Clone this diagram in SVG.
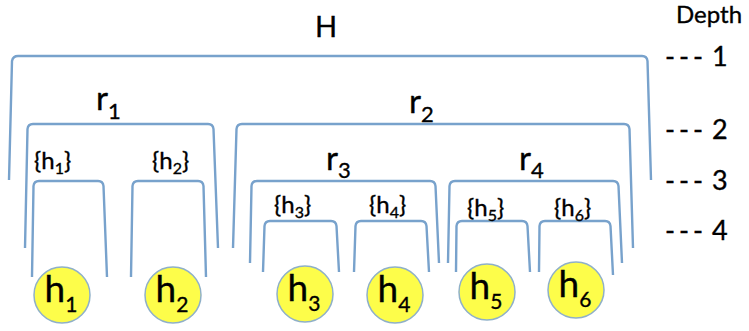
<svg xmlns="http://www.w3.org/2000/svg" width="749" height="331" viewBox="0 0 749 331">
<style>
  .br{fill:none;stroke:#78a2cc;stroke-width:2.4;stroke-linecap:butt;stroke-linejoin:round}
  text{font-family:Lato,"Open Sans","Liberation Sans",sans-serif;fill:#000;stroke:#000;stroke-width:0.35}
  .big{font-size:29px}
  .r{font-size:33px}
  .rs{font-size:22px}
  .set{font-size:24px}
  .ss{font-size:16px}
  .leaf{fill:#fdfd4a;stroke:#8fb0c8;stroke-width:1.5}
  .lh{font-size:37px}
  .ls{font-size:21px}
  .dep{font-size:24px}
  .dn{font-size:27px}
</style>
<rect width="749" height="331" fill="#fff"/>
<g id="connectors">
  <path class="br" d="M9,180 L12,61 Q13,56 18,56 L642,56 Q647,56 647.5,61 L651,180"/>
  <path class="br" d="M25,248 L27.5,129 Q28,124 33,124 L208,124 Q213,124 213.5,129 L218,248"/>
  <path class="br" d="M233,248 L236.5,129 Q237,124 242,124 L624,124 Q629,124 629.5,129 L633,248"/>
  <path class="br" d="M250,263 L251.5,186 Q252,181 257,181 L430,181 Q435,181 435.5,186 L439,263"/>
  <path class="br" d="M448,263 L449.5,186 Q450,181 455,181 L613,181 Q618,181 618.5,186 L622,263"/>
  <path class="br" d="M32,277 L33.5,186 Q34,181 39,181 L98,181 Q103,181 103.5,186 L107,277"/>
  <path class="br" d="M131,277 L132.5,186 Q133,181 138,181 L198,181 Q203,181 203.5,186 L206,277"/>
  <path class="br" d="M263,272 L264.5,226 Q265,221 270,221 L331,221 Q336,221 336.5,226 L339,272"/>
  <path class="br" d="M354,272 L355.5,226 Q356,221 361,221 L421,221 Q426,221 426.5,226 L429,272"/>
  <path class="br" d="M456,272 L456.5,226 Q457,221 462,221 L522,221 Q527,221 527.5,226 L530,272"/>
  <path class="br" d="M539,272 L539.5,226 Q540,221 545,221 L605,221 Q610,221 610.5,226 L613,275"/>
</g>
<g id="node-H"><text class="big" x="326" y="37" text-anchor="middle">H</text></g>
<g id="node-r1"><text x="96" y="110"><tspan class="r">r</tspan><tspan class="rs" dy="9">1</tspan></text></g>
<g id="node-r2"><text x="409" y="113"><tspan class="r">r</tspan><tspan class="rs" dy="9">2</tspan></text></g>
<g id="node-r3"><text x="326" y="170"><tspan class="r">r</tspan><tspan class="rs" dy="8">3</tspan></text></g>
<g id="node-r4"><text x="519" y="170"><tspan class="r">r</tspan><tspan class="rs" dy="8">4</tspan></text></g>
<g id="node-s1"><text class="set" x="34" y="169">{h<tspan class="ss" dy="5">1</tspan><tspan dy="-5">}</tspan></text></g>
<g id="node-s2"><text class="set" x="152" y="169">{h<tspan class="ss" dy="5">2</tspan><tspan dy="-5">}</tspan></text></g>
<g id="node-s3"><text class="set" x="274" y="213">{h<tspan class="ss" dy="5">3</tspan><tspan dy="-5">}</tspan></text></g>
<g id="node-s4"><text class="set" x="369" y="213">{h<tspan class="ss" dy="5">4</tspan><tspan dy="-5">}</tspan></text></g>
<g id="node-s5"><text class="set" x="467" y="216">{h<tspan class="ss" dy="5">5</tspan><tspan dy="-5">}</tspan></text></g>
<g id="node-s6"><text class="set" x="554" y="216">{h<tspan class="ss" dy="5">6</tspan><tspan dy="-5">}</tspan></text></g>
<g id="leaf-h1"><circle class="leaf" cx="62" cy="295" r="28"/><text x="61" y="302" text-anchor="middle"><tspan class="lh">h</tspan><tspan class="ls" dy="10">1</tspan></text></g>
<g id="leaf-h2"><circle class="leaf" cx="173" cy="295" r="28"/><text x="172" y="302" text-anchor="middle"><tspan class="lh">h</tspan><tspan class="ls" dy="10">2</tspan></text></g>
<g id="leaf-h3"><circle class="leaf" cx="305" cy="294" r="28"/><text x="304" y="301" text-anchor="middle"><tspan class="lh">h</tspan><tspan class="ls" dy="10">3</tspan></text></g>
<g id="leaf-h4"><circle class="leaf" cx="395" cy="295" r="28"/><text x="394" y="302" text-anchor="middle"><tspan class="lh">h</tspan><tspan class="ls" dy="10">4</tspan></text></g>
<g id="leaf-h5"><circle class="leaf" cx="487" cy="292" r="28"/><text x="486" y="299" text-anchor="middle"><tspan class="lh">h</tspan><tspan class="ls" dy="10">5</tspan></text></g>
<g id="leaf-h6"><circle class="leaf" cx="576" cy="290" r="28"/><text x="575" y="297" text-anchor="middle"><tspan class="lh">h</tspan><tspan class="ls" dy="10">6</tspan></text></g>
<g id="depth">
  <text class="dep" x="676" y="23">Depth</text>
  <text class="dn" x="665" y="66"><tspan letter-spacing="4">---</tspan><tspan x="712">1</tspan></text>
  <text class="dn" x="665" y="139"><tspan letter-spacing="4">---</tspan><tspan x="712">2</tspan></text>
  <text class="dn" x="665" y="190"><tspan letter-spacing="4">---</tspan><tspan x="712">3</tspan></text>
  <text class="dn" x="665" y="240"><tspan letter-spacing="4">---</tspan><tspan x="712">4</tspan></text>
</g>
</svg>
